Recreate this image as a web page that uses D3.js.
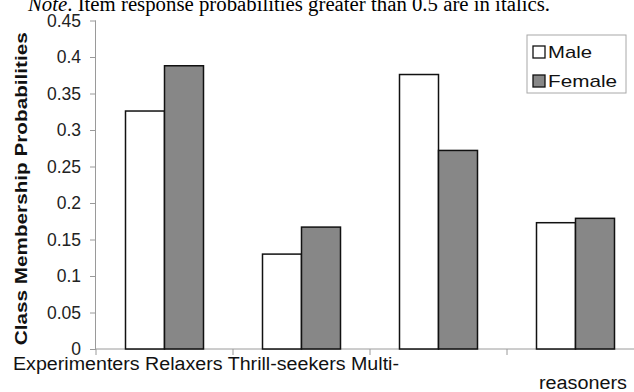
<!DOCTYPE html>
<html>
<head>
<meta charset="utf-8">
<script src="https://cdn.jsdelivr.net/npm/d3@7"></script>
<style>
  body { margin: 0; background: white; }
  svg { display: block; }
</style>
</head>
<body>
<svg id="chart"></svg>
<script>
// data
const classes = ["Experimenters", "Relaxers", "Thrill-seekers", "Multi-reasoners"];
const groups = ["Male", "Female"];
const male = [0.326, 0.130, 0.376, 0.173];
const female = [0.388, 0.167, 0.272, 0.179];
const yTicks = [0, 0.05, 0.1, 0.15, 0.2, 0.25, 0.3, 0.35, 0.4, 0.45];
const fills = { Male: "#ffffff", Female: "#878787" };

const width = 634, height = 392;
const svg = d3.select("#chart").attr("width", width).attr("height", height);

const x0 = d3.scaleBand().domain(classes).range([96, 96 + 4 * 137]).padding(0);
const x1 = d3.scaleBand().domain(groups).range([29.5, 107.5]).padding(0);
const y = d3.scaleLinear().domain([0, 0.45]).range([349, 20.5]);

const rows = classes.map((c, i) => ({ cls: c, Male: male[i], Female: female[i] }));

// note line at the top (cut off in the scan)
const note = svg.append("text")
    .attr("x", 28).attr("y", 11)
    .attr("textLength", 522).attr("lengthAdjust", "spacingAndGlyphs")
    .style("font-family", "'Liberation Serif', 'Times New Roman', serif")
    .style("font-size", "20px");
note.append("tspan").style("font-style", "italic").text("Note");
note.append("tspan").text(". Item response probabilities greater than 0.5 are in italics.");

// y axis
const yAxis = d3.axisLeft(y).tickValues(yTicks).tickSize(6).tickPadding(9)
    .tickFormat(d => d === 0 ? "0" : String(+d.toFixed(2)));
const gy = svg.append("g").attr("transform", "translate(96,0)").call(yAxis);
gy.select(".domain").attr("stroke", "#9a9a9a").attr("d", `M-0.5,${y(0.45)}V${y(0)}`);
gy.selectAll(".tick line").attr("stroke", "#9a9a9a");
gy.selectAll(".tick text")
    .style("font-family", "'Liberation Sans', Arial, sans-serif")
    .style("font-size", "17.5px").attr("fill", "#222");

// x axis: baseline with ticks between categories
const gx = svg.append("g").attr("transform", `translate(0,${y(0)})`);
gx.append("line").attr("x1", 96).attr("x2", width).attr("stroke", "#9a9a9a");
gx.selectAll("line.sep")
    .data(classes)
    .enter().append("line")
    .attr("class", "sep")
    .attr("x1", d => x0(d)).attr("x2", d => x0(d))
    .attr("y1", 0).attr("y2", 6)
    .attr("stroke", "#9a9a9a");

// bars
const grp = svg.append("g").selectAll("g")
    .data(rows)
    .enter().append("g")
    .attr("transform", d => `translate(${x0(d.cls)},0)`);
grp.selectAll("rect")
    .data(d => groups.map(g => ({ g, v: d[g] })))
    .enter().append("rect")
    .attr("x", d => x1(d.g))
    .attr("width", x1.bandwidth())
    .attr("y", d => y(d.v))
    .attr("height", d => y(0) - y(d.v))
    .attr("fill", d => fills[d.g])
    .attr("stroke", "#111")
    .attr("stroke-width", 1.5);

// category labels, laid out like the original (wrapped "Multi-reasoners")
const labelFont = "'Liberation Sans', Arial, sans-serif";
svg.append("text")
    .attr("x", 13).attr("y", 370)
    .attr("textLength", 386).attr("lengthAdjust", "spacingAndGlyphs")
    .style("font-family", labelFont).style("font-size", "18px").attr("fill", "#111")
    .text(classes.slice(0, 3).join(" ") + " Multi-");
svg.append("text")
    .attr("x", 539).attr("y", 389)
    .attr("textLength", 88).attr("lengthAdjust", "spacingAndGlyphs")
    .style("font-family", labelFont).style("font-size", "18px").attr("fill", "#111")
    .text("reasoners");

// y title
svg.append("text")
    .attr("transform", `translate(27,${(y(0) + y(0.45)) / 2 + 4}) rotate(-90)`)
    .attr("text-anchor", "middle")
    .attr("textLength", 313).attr("lengthAdjust", "spacingAndGlyphs")
    .style("font-family", labelFont).style("font-size", "17px").style("font-weight", "bold")
    .attr("fill", "#111")
    .text("Class Membership Probabilities");

// legend
const legend = svg.append("g").attr("transform", "translate(527,35)");
legend.append("rect").attr("width", 99).attr("height", 58)
    .attr("fill", "white").attr("stroke", "#a8a8a8");
const items = legend.selectAll("g.item")
    .data(groups)
    .enter().append("g")
    .attr("class", "item")
    .attr("transform", (d, i) => `translate(6,${11 + i * 29})`);
items.append("rect").attr("width", 12).attr("height", 12)
    .attr("fill", d => fills[d]).attr("stroke", "#111").attr("stroke-width", 1.3);
items.append("text")
    .attr("x", 15).attr("y", 12)
    .attr("textLength", d => d === "Male" ? 44 : 69).attr("lengthAdjust", "spacingAndGlyphs")
    .style("font-family", labelFont).style("font-size", "17px").attr("fill", "#111")
    .text(d => d);
</script>
</body>
</html>
